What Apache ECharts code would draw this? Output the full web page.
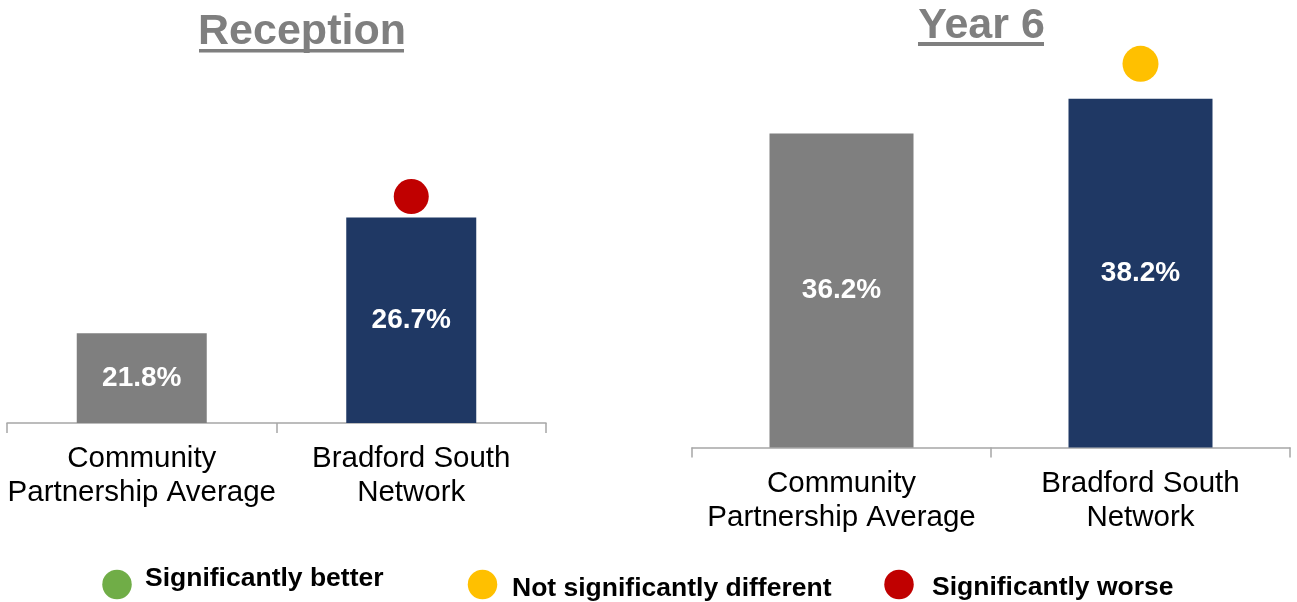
<!DOCTYPE html>
<html>
<head>
<meta charset="utf-8">
<script src="https://cdn.jsdelivr.net/npm/echarts@6/dist/echarts.min.js"></script>
<style>
html,body{margin:0;padding:0;background:#fff;}
#chart{width:1297px;height:602px;}
</style>
</head>
<body>
<div id="chart"></div>
<script>
// ---- data ----
const categories = ['Community\nPartnership Average', 'Bradford South\nNetwork'];
const receptionValues = [21.8, 26.7];
const year6Values = [36.2, 38.2];
const panelTitles = ['Reception', 'Year 6'];
const sigLevels = ['Significantly better', 'Not significantly different', 'Significantly worse'];
const receptionSig = [null, 'Significantly worse'];
const year6Sig = [null, 'Not significantly different'];

// ---- styles ----
const FONT = 'Liberation Sans, Arial, sans-serif';
const barColors = ['#7F7F7F', '#1F3864'];
const sigColors = {'Significantly better': '#70AD47', 'Not significantly different': '#FFC000', 'Significantly worse': '#C00000'};
const axisColor = '#A6A6A6';
// legend key placement (dot centre x, text left x, text centre y)
const keyPos = [
  {dot: 117, text: 145, ty: 579},
  {dot: 482.5, text: 512, ty: 589},
  {dot: 899, text: 932, ty: 588}
];
const keyDotY = 584.5;

function xAxisCfg(gridIndex) {
  return {
    type: 'category', gridIndex, data: categories,
    axisLine: {lineStyle: {color: axisColor, width: 1.5}},
    axisTick: {show: true, length: 10, lineStyle: {color: axisColor, width: 1.5}},
    axisLabel: {interval: 0, color: '#000', fontFamily: FONT, fontSize: 29.5, lineHeight: 34, margin: 19}
  };
}
function yAxisCfg(gridIndex, min, max) {
  return {type: 'value', gridIndex, min, max, show: false, splitLine: {show: false}};
}
function barSeries(name, idx, values, width) {
  return {
    name, type: 'bar', xAxisIndex: idx, yAxisIndex: idx, barWidth: width,
    data: values.map((v, i) => ({value: v, itemStyle: {color: barColors[i]}})),
    label: {show: true, position: 'inside', color: '#fff', fontFamily: FONT, fontWeight: 'bold', fontSize: 28,
      formatter: p => p.value.toFixed(1) + '%'},
    silent: true
  };
}
function sigSeries(idx, values, sig, size, offset) {
  return sigLevels.map(level => ({
    name: level, type: 'scatter', xAxisIndex: idx, yAxisIndex: idx,
    symbol: 'circle', symbolSize: size, symbolOffset: [0, offset],
    itemStyle: {color: sigColors[level], opacity: 1},
    data: values.map((v, i) => sig[i] === level ? [categories[i], v] : null).filter(d => d),
    silent: true, z: 5
  }));
}
const keyGraphics = [];
sigLevels.forEach((level, i) => {
  keyGraphics.push({type: 'circle', shape: {cx: keyPos[i].dot, cy: keyDotY, r: 14.75}, style: {fill: sigColors[level]}});
  keyGraphics.push({type: 'text', x: keyPos[i].text, y: keyPos[i].ty,
    style: {text: level, fill: '#000', font: 'bold 26.5px ' + FONT, align: 'left', verticalAlign: 'middle', textAlign: 'left', textVerticalAlign: 'middle'}});
});

const chart = echarts.init(document.getElementById('chart'));
chart.setOption({
  animation: false,
  backgroundColor: '#fff',
  grid: [
    {left: 7, width: 539, top: 139.6, height: 283.4},
    {left: 692, width: 598, top: 67.8, height: 379.7}
  ],
  xAxis: [xAxisCfg(0), xAxisCfg(1)],
  yAxis: [yAxisCfg(0, 18, 30), yAxisCfg(1, 18, 40)],
  graphic: [
    {type: 'text', x: 302, y: 32, style: {text: panelTitles[0], fill: '#7F7F7F', font: 'bold 43px ' + FONT, align: 'center', verticalAlign: 'middle', textAlign: 'center', textVerticalAlign: 'middle'}},
    {type: 'rect', shape: {x: 199, y: 49, width: 205, height: 3.5}, style: {fill: '#7F7F7F'}},
    {type: 'text', x: 981.5, y: 26, style: {text: panelTitles[1], fill: '#7F7F7F', font: 'bold 43px ' + FONT, align: 'center', verticalAlign: 'middle', textAlign: 'center', textVerticalAlign: 'middle'}},
    {type: 'rect', shape: {x: 918, y: 42, width: 126, height: 4}, style: {fill: '#7F7F7F'}},
    ...keyGraphics
  ],
  series: [
    barSeries(panelTitles[0], 0, receptionValues, 130),
    barSeries(panelTitles[1], 1, year6Values, 144),
    ...sigSeries(0, receptionValues, receptionSig, 35, -21),
    ...sigSeries(1, year6Values, year6Sig, 36, -35)
  ]
});
</script>
</body>
</html>
